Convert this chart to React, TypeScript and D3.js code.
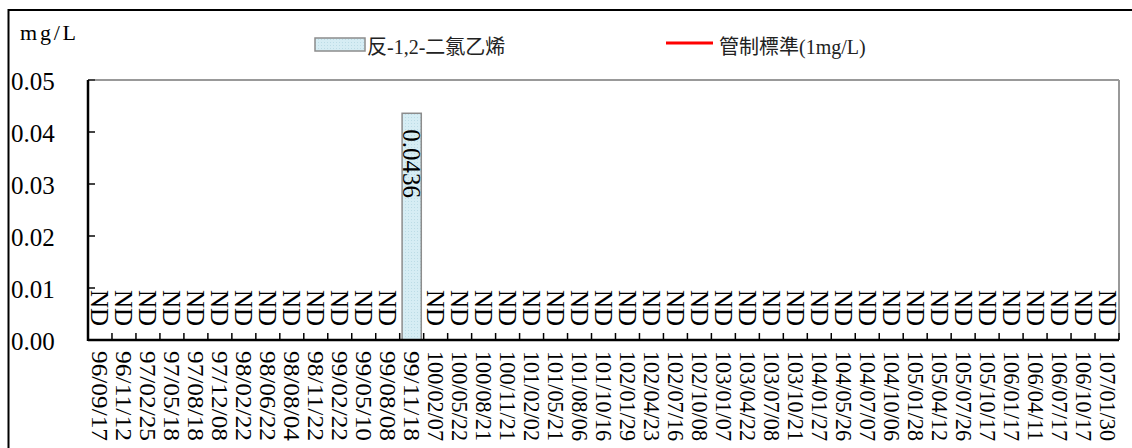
import * as React from 'react';
import * as d3 from 'd3';

// sampling dates (ROC calendar)
const dates = [
  '96/09/17', '96/11/12', '97/02/25', '97/05/18', '97/08/18', '97/12/08',
  '98/02/22', '98/06/22', '98/08/04', '98/11/22', '99/02/22', '99/05/10',
  '99/08/08', '99/11/18', '100/02/07', '100/05/22', '100/08/21', '100/11/21',
  '101/02/02', '101/05/21', '101/08/06', '101/10/16', '102/01/29', '102/04/23',
  '102/07/16', '102/10/08', '103/01/07', '103/04/22', '103/07/08', '103/10/21',
  '104/01/27', '104/05/26', '104/07/07', '104/10/06', '105/01/28', '105/04/12',
  '105/07/26', '105/10/17', '106/01/17', '106/04/11', '106/07/17', '106/10/17',
  '107/01/30'
];

// null = ND (not detected)
const values: (number | null)[] = [
  null, null, null, null, null, null, null, null, null, null, null, null,
  null, 0.0436, null, null, null, null, null, null, null, null, null, null,
  null, null, null, null, null, null, null, null, null, null, null, null,
  null, null, null, null, null, null, null
];

const yTicks = [0, 0.01, 0.02, 0.03, 0.04, 0.05];
const unit = 'mg/L';

const serif = "'Liberation Serif', 'Times New Roman', serif";
const cjk = "'Noto Sans CJK TC', sans-serif";
const barFill = '#d6edf4';
const barStroke = '#8c8c8c';

export default function App() {
  const left = 88, right = 1119, top = 80, bottom = 340;

  const x = d3.scaleBand<string>()
    .domain(dates)
    .range([left, right])
    .paddingInner(0.2)
    .paddingOuter(0.1);

  const y = d3.scaleLinear().domain([0, 0.05]).range([bottom, top]);
  const step = x.step();

  return (
    <svg width={1132} height={448}
      style={{ position: 'absolute', left: 0, top: 0, fontFamily: serif }}>
      <defs>
        <pattern id="dots" width="3" height="3" patternUnits="userSpaceOnUse">
          <rect width="3" height="3" fill={barFill} />
          <rect width="1" height="1" fill="#bcdce6" />
        </pattern>
      </defs>
      <rect x={0} y={0} width={1132} height={448} fill="#fff" />
      {/* outer frame */}
      <rect x={8.5} y={10} width={1140} height={500} fill="none" stroke="#000" strokeWidth={2} />

      <text x={20} y={40} fontSize={22} textLength={56} lengthAdjust="spacing">{unit}</text>

      {/* legend */}
      <rect x={315} y={38} width={50} height={13} fill="url(#dots)" stroke={barStroke} strokeWidth={1.5} />
      <text x={367} y={54} fontSize={20} fill="#222">
        <tspan fontFamily={cjk}>反</tspan>
        <tspan>-1,2-</tspan>
        <tspan fontFamily={cjk}>二氯乙烯</tspan>
      </text>
      <line x1={666} x2={713} y1={43} y2={43} stroke="#ff0000" strokeWidth={3} />
      <text x={719} y={54} fontSize={20} fill="#222">
        <tspan fontFamily={cjk}>管制標準</tspan>
        <tspan>(1mg/L)</tspan>
      </text>

      {/* plot frame */}
      <line x1={left} x2={right} y1={top} y2={top} stroke="#999" strokeWidth={2} />
      <line x1={right} x2={right} y1={top} y2={bottom} stroke="#999" strokeWidth={2} />

      {/* y axis */}
      {yTicks.map(t => (
        <g key={t}>
          <line x1={left} x2={left + 7} y1={y(t)} y2={y(t)} stroke="#444" strokeWidth={2} />
          <text x={11} y={y(t) + 1} fontSize={25} dominantBaseline="central">{t.toFixed(2)}</text>
        </g>
      ))}

      {/* bars */}
      {values.map((v, i) => v == null ? null : (
        <rect key={i} x={x(dates[i])} y={y(v)} width={x.bandwidth()} height={y(0) - y(v)}
          fill="url(#dots)" stroke={barStroke} strokeWidth={1.5} />
      ))}

      {/* data labels */}
      {values.map((v, i) => {
        const cx = (x(dates[i]) as number) + x.bandwidth() / 2;
        const ly = v == null ? y(0) - 50 : y(v) + 16;
        return (
          <text key={i} transform={`translate(${cx},${ly}) rotate(90)`} fontSize={25}
            dominantBaseline="central">{v == null ? 'ND' : String(v)}</text>
        );
      })}

      {/* x axis */}
      <line x1={left} x2={left} y1={top} y2={bottom + 1} stroke="#000" strokeWidth={2.5} />
      <line x1={left} x2={right} y1={bottom} y2={bottom} stroke="#000" strokeWidth={2.5} />
      {d3.range(dates.length + 1).map(i => (
        <line key={i} x1={left + i * step} x2={left + i * step} y1={bottom} y2={bottom - 7}
          stroke="#000" strokeWidth={1.5} />
      ))}
      {dates.map(d => (
        <text key={d} transform={`translate(${(x(d) as number) + x.bandwidth() / 2},351) rotate(90)`}
          fontSize={22.5} textLength={90} lengthAdjust="spacingAndGlyphs"
          dominantBaseline="central">{d}</text>
      ))}
    </svg>
  );
}
